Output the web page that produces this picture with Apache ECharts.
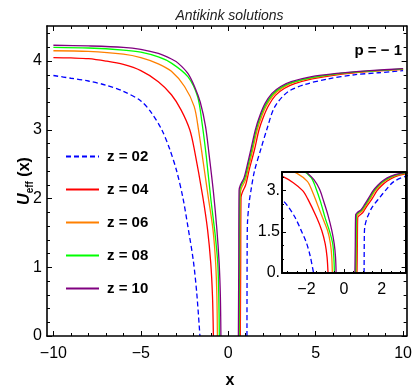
<!DOCTYPE html>
<html><head><meta charset="utf-8">
<script src="https://cdn.jsdelivr.net/npm/echarts@6/dist/echarts.min.js"></script>
<style>html,body{margin:0;padding:0;background:#fff}#c{width:415px;height:390px}</style>
</head><body><div id="c"></div>
<script>
const FONT = '"Liberation Sans", Arial, Helvetica, sans-serif';

// ---- series names / colours ----
const seriesNames = ['z = 02', 'z = 04', 'z = 06', 'z = 08', 'z = 10'];
const seriesColors = ['#0000ff', '#ff0000', '#ff8000', '#00ff00', '#800080'];

// ---- z = 02 ----
const z02LeftX  = [-10, -9, -8, -7, -6, -5, -4.4, -3.8, -3.35, -2.95, -2.6, -2.3, -2.0, -1.8, -1.62];
const z02LeftU  = [3.79, 3.75, 3.71, 3.65, 3.56, 3.42, 3.25, 3.0, 2.72, 2.4, 2.02, 1.58, 1.1, 0.62, 0];
const z02RightX = [1.07, 1.08, 1.1, 1.2, 1.3, 1.5, 1.9, 2.2, 2.65, 3.4, 4.4, 5.7, 7.2, 8.6, 10];
const z02RightU = [0, 1.2, 1.65, 1.95, 2.12, 2.4, 2.75, 3.0, 3.33, 3.55, 3.66, 3.74, 3.8, 3.83, 3.86];
// ---- z = 04 ----
const z04LeftX  = [-10, -9, -8, -7, -6, -5, -4, -3.25, -2.7, -2.2, -1.93, -1.46, -1.18, -1.0, -0.9, -0.85];
const z04LeftU  = [4.05, 4.045, 4.035, 4.0, 3.95, 3.86, 3.7, 3.51, 3.29, 3.0, 2.7, 2.03, 1.54, 1.06, 0.57, 0];
const z04RightX = [0.69, 0.71, 0.73, 0.82, 1.0, 1.2, 1.5, 1.76, 2.0, 2.3, 2.7, 3.2, 3.8, 4.8, 6.2, 8.1, 10];
const z04RightU = [0, 1.0, 2.02, 2.1, 2.2, 2.42, 2.71, 3.0, 3.18, 3.35, 3.5, 3.6, 3.67, 3.74, 3.8, 3.85, 3.88];
// ---- z = 06 ----
const z06LeftX  = [-10, -8, -6, -5, -4, -3.25, -2.5, -1.95, -1.7, -1.42, -1.15, -0.87, -0.72, -0.65, -0.62];
const z06LeftU  = [4.15, 4.14, 4.1, 4.05, 3.96, 3.85, 3.63, 3.34, 3.0, 2.51, 2.03, 1.54, 1.06, 0.57, 0];
const z06RightX = [0.65, 0.67, 0.69, 0.77, 0.97, 1.17, 1.4, 1.66, 1.92, 2.2, 2.6, 3.1, 3.7, 4.8, 6.2, 8.1, 10];
const z06RightU = [0, 1.0, 2.08, 2.16, 2.26, 2.46, 2.71, 3.0, 3.2, 3.36, 3.51, 3.61, 3.685, 3.755, 3.81, 3.85, 3.88];
// ---- z = 08 ----
const z08LeftX  = [-10, -8, -6, -5, -4, -3.25, -2.3, -1.75, -1.5, -1.25, -1.0, -0.76, -0.6, -0.54, -0.51];
const z08LeftU  = [4.2, 4.19, 4.16, 4.13, 4.06, 3.97, 3.77, 3.48, 3.1, 2.6, 2.0, 1.5, 1.06, 0.57, 0];
const z08RightX = [0.62, 0.64, 0.66, 0.74, 0.94, 1.14, 1.35, 1.6, 1.85, 2.15, 2.55, 3.05, 3.65, 4.75, 6.2, 8.1, 10];
const z08RightU = [0, 1.0, 2.12, 2.19, 2.29, 2.49, 2.72, 3.0, 3.2, 3.37, 3.52, 3.62, 3.69, 3.76, 3.815, 3.855, 3.885];
// ---- z = 10 ----
const z10LeftX  = [-10, -8, -6, -5, -4, -3.25, -2.87, -2.31, -1.93, -1.6, -1.3, -1.1, -0.85, -0.65, -0.52, -0.45, -0.42];
const z10LeftU  = [4.23, 4.22, 4.2, 4.17, 4.11, 4.03, 3.97, 3.82, 3.63, 3.4, 3.05, 2.65, 2.1, 1.55, 1.06, 0.57, 0];
const z10RightX = [0.58, 0.6, 0.62, 0.7, 0.9, 1.1, 1.3, 1.55, 1.8, 2.1, 2.5, 3.0, 3.6, 4.7, 6.2, 8.1, 10];
const z10RightU = [0, 1.0, 2.12, 2.2, 2.3, 2.5, 2.72, 3.0, 3.2, 3.38, 3.53, 3.63, 3.7, 3.77, 3.82, 3.86, 3.89];

// ---- ticks ----
const xMajorTicks = [-10, -5, 0, 5, 10];
const xMinorTicks = [-10, -9, -8, -7, -6, -5, -4, -3, -2, -1, 0, 1, 2, 3, 4, 5, 6, 7, 8, 9, 10];
const yMajorTicks = [0, 1, 2, 3, 4];
const yMinorTicks = [0, 0.2, 0.4, 0.6, 0.8, 1, 1.2, 1.4, 1.6, 1.8, 2, 2.2, 2.4, 2.6, 2.8, 3, 3.2, 3.4, 3.6, 3.8, 4, 4.2, 4.4];
const insetXMajorTicks = [-2, 0, 2];
const insetXMinorTicks = [-3, -2.5, -2, -1.5, -1, -0.5, 0, 0.5, 1, 1.5, 2, 2.5, 3];
const insetYMajorTicks = [0, 1.5, 3];
const insetYTickLabels = ['0.', '1.5', '3.'];
const insetYMinorTicks = [0, 0.5, 1, 1.5, 2, 2.5, 3, 3.5];

const branches = [
  [z02LeftX, z02LeftU, z02RightX, z02RightU],
  [z04LeftX, z04LeftU, z04RightX, z04RightU],
  [z06LeftX, z06LeftU, z06RightX, z06RightU],
  [z08LeftX, z08LeftU, z08RightX, z08RightU],
  [z10LeftX, z10LeftU, z10RightX, z10RightU]
];

const X_MIN = -10.366, X_MAX = 10.2, Y_MIN = 0, Y_MAX = 4.51;
const IX_MIN = -3.3, IX_MAX = 3.3, IY_MIN = 0, IY_MAX = 3.68;

const minus = v => (v < 0 ? '\u2212' + Math.abs(v) : String(v));

function axis(o) {
  return {
    type: 'value', gridIndex: o.grid, min: o.min, max: o.max, position: o.pos,
    axisLine: { show: !!o.line, onZero: false, lineStyle: { color: '#000', width: o.lw || 1.6 } },
    axisTick: { show: !!o.ticks, inside: true, length: o.tl || 5, customValues: o.ticks, lineStyle: { color: '#000', width: 1 } },
    axisLabel: o.labels ? Object.assign({ show: true, customValues: o.labels, color: '#000', fontSize: 16, fontFamily: FONT, margin: o.margin }, o.fmt ? { formatter: o.fmt } : {}) : { show: false },
    splitLine: { show: false }, z: o.z || 5
  };
}

const xAxes = [
  axis({ grid: 0, min: X_MIN, max: X_MAX, pos: 'bottom', line: true, ticks: xMajorTicks, tl: 5, labels: xMajorTicks, fmt: minus, margin: 10 }),
  axis({ grid: 0, min: X_MIN, max: X_MAX, pos: 'bottom', ticks: xMinorTicks, tl: 3 }),
  axis({ grid: 0, min: X_MIN, max: X_MAX, pos: 'top', line: true, ticks: xMajorTicks, tl: 5 }),
  axis({ grid: 0, min: X_MIN, max: X_MAX, pos: 'top', ticks: xMinorTicks, tl: 3 }),
  axis({ grid: 1, min: IX_MIN, max: IX_MAX, pos: 'bottom', line: true, lw: 2, ticks: insetXMajorTicks, tl: 4, labels: insetXMajorTicks, fmt: minus, margin: 9, z: 7 }),
  axis({ grid: 1, min: IX_MIN, max: IX_MAX, pos: 'bottom', ticks: insetXMinorTicks, tl: 2, z: 7 }),
  axis({ grid: 1, min: IX_MIN, max: IX_MAX, pos: 'top', line: true, lw: 2, z: 7 })
];
const yAxes = [
  axis({ grid: 0, min: Y_MIN, max: Y_MAX, pos: 'left', line: true, ticks: yMajorTicks, tl: 5, labels: yMajorTicks, margin: 5 }),
  axis({ grid: 0, min: Y_MIN, max: Y_MAX, pos: 'left', ticks: yMinorTicks, tl: 3 }),
  axis({ grid: 0, min: Y_MIN, max: Y_MAX, pos: 'right', line: true, ticks: yMajorTicks, tl: 5 }),
  axis({ grid: 0, min: Y_MIN, max: Y_MAX, pos: 'right', ticks: yMinorTicks, tl: 3 }),
  axis({ grid: 1, min: IY_MIN, max: IY_MAX, pos: 'left', line: true, lw: 2, ticks: insetYMajorTicks, tl: 4, labels: insetYMajorTicks,
    fmt: v => insetYTickLabels[insetYMajorTicks.indexOf(v)], margin: 2, z: 7 }),
  axis({ grid: 1, min: IY_MIN, max: IY_MAX, pos: 'left', ticks: insetYMinorTicks, tl: 2, z: 7 }),
  axis({ grid: 1, min: IY_MIN, max: IY_MAX, pos: 'right', line: true, lw: 2, z: 7 })
];

const series = [];
branches.forEach((b, i) => {
  const left = b[0].map((x, k) => [x, b[1][k]]);
  const right = b[2].map((x, k) => [x, b[3][k]]);
  const ls = { color: seriesColors[i], width: 1.3, type: i === 0 ? [5, 3] : 'solid' };
  [[0, 0, 2], [4, 4, 4]].forEach(([xi, yi, z]) => {
    [left, right].forEach(d => {
      series.push({
        type: 'line', name: seriesNames[i], data: d, xAxisIndex: xi, yAxisIndex: yi,
        showSymbol: false, symbol: 'none', smooth: 0.3, clip: true, z: z + i * 0.01,
        lineStyle: ls, itemStyle: { color: seriesColors[i] }, silent: true, animation: false
      });
    });
  });
});

const chart = echarts.init(document.getElementById('c'), null, { renderer: 'canvas' });
chart.setOption({
  animation: false,
  backgroundColor: '#fff',
  grid: [
    { left: 47, top: 26, width: 365, height: 310 },
    { left: 282, top: 172, width: 124, height: 101 }
  ],
  xAxis: xAxes,
  yAxis: yAxes,
  legend: {
    orient: 'vertical', left: 65, top: 149, padding: 0, itemWidth: 33, itemHeight: 14, itemGap: 18,
    data: seriesNames, selectedMode: false,
    lineStyle: { width: 2 },
    itemStyle: { color: 'rgba(0,0,0,0)', borderWidth: 0, opacity: 0 },
    textStyle: { fontSize: 15, fontWeight: 'bold', fontFamily: FONT, color: '#000', padding: [0, 0, 0, 3] }
  },
  graphic: [
    { type: 'rect', z: 3, shape: { x: 282, y: 172, width: 124, height: 101 }, style: { fill: '#fff' }, silent: true },
    { type: 'text', x: 229.5, y: 16, z: 10, style: { text: 'Antikink solutions', fontSize: 14, fontStyle: 'italic', fontFamily: FONT, fill: '#222', align: 'center', verticalAlign: 'middle' } },
    { type: 'text', x: 402, y: 51, z: 10, style: { text: 'p = \u2212 1', fontSize: 15, fontWeight: 'bold', fontFamily: FONT, fill: '#000', align: 'right', verticalAlign: 'middle' } },
    { type: 'text', x: 230, y: 381, z: 10, style: { text: 'x', fontSize: 16, fontWeight: 'bold', fontFamily: FONT, fill: '#000', align: 'center', verticalAlign: 'middle' } },
    { type: 'text', x: 25, y: 181, rotation: Math.PI / 2, z: 10, style: {
        text: '{u|U}{s|eff}{p| (x)}', align: 'center', verticalAlign: 'middle', fill: '#000', fontFamily: FONT,
        rich: {
          u: { fontSize: 16, fontWeight: 'bold', fontStyle: 'italic', fontFamily: FONT, lineHeight: 20, verticalAlign: 'middle' },
          s: { fontSize: 10, fontWeight: 'bold', fontFamily: FONT, verticalAlign: 'bottom', lineHeight: 12 },
          p: { fontSize: 16, fontWeight: 'bold', fontFamily: FONT, lineHeight: 20, verticalAlign: 'middle' }
        } } }
  ],
  series: series
});
</script></body></html>
